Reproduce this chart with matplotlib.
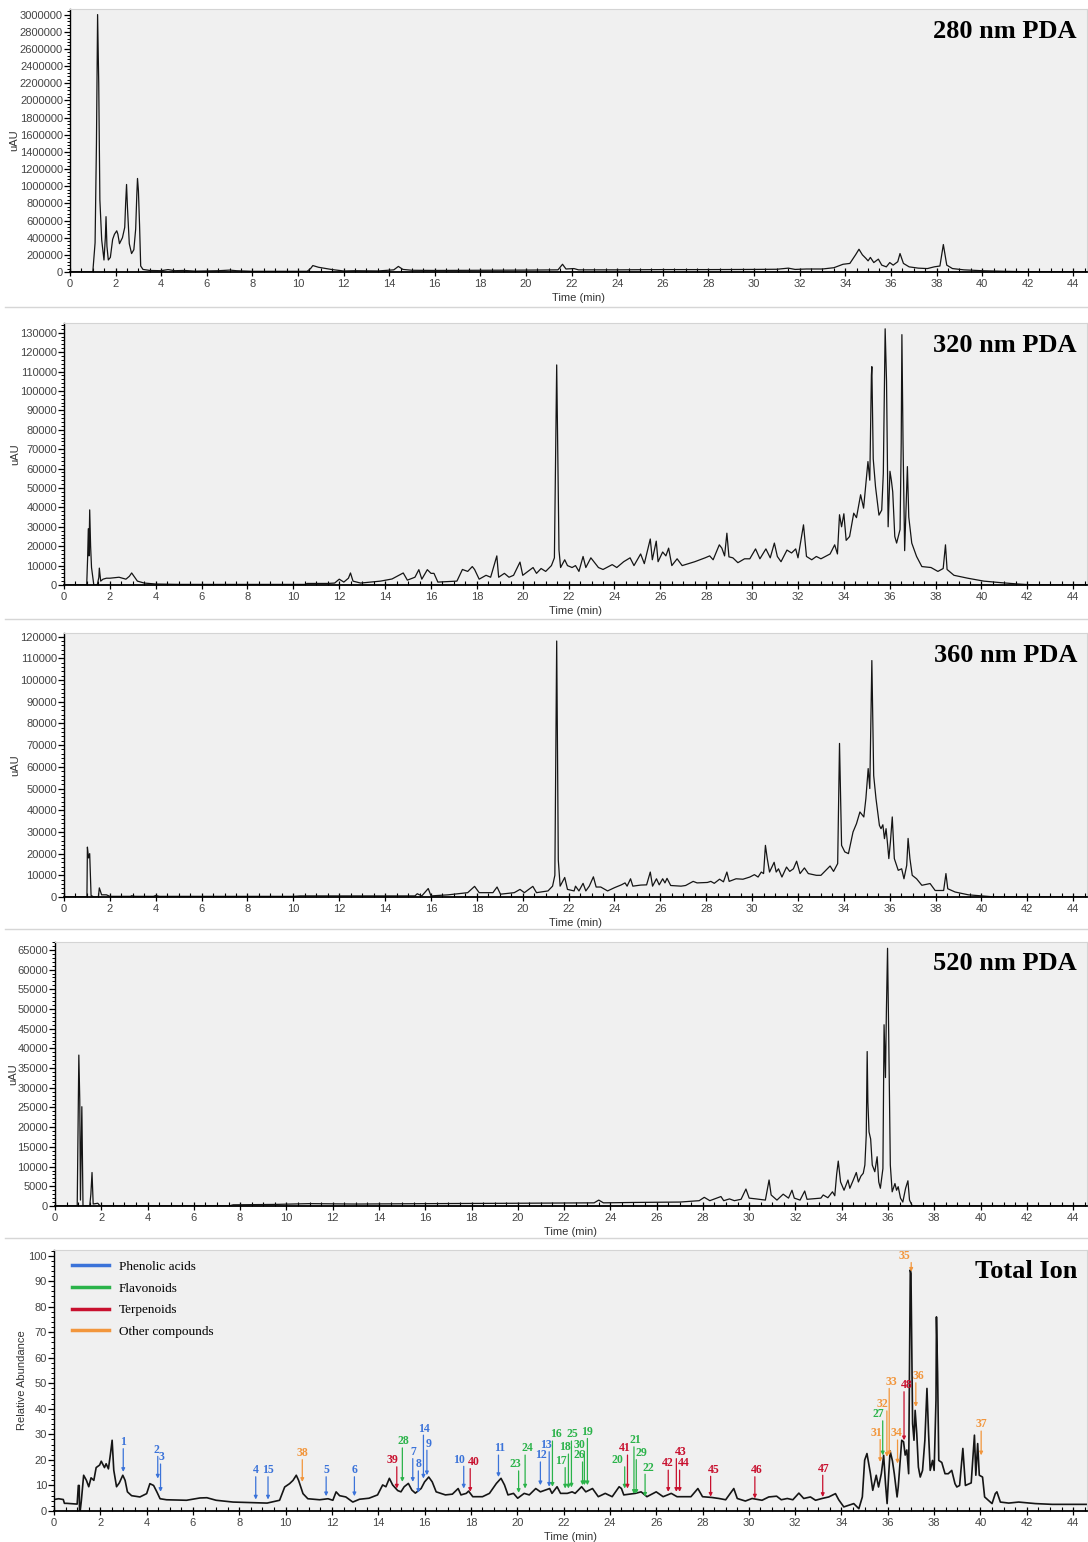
import numpy as np
import matplotlib.pyplot as plt
from matplotlib.ticker import MultipleLocator, AutoMinorLocator
from matplotlib.lines import Line2D

# ---- data: (time [min], signal) vertices ----
# 280 nm PDA, signal in uAU
pda280 = [(0, 0), (1.0, 0), (1.1, 340e3), (1.16, 1.5e6), (1.21, 3.0e6), (1.26, 2.2e6),
          (1.31, 840e3), (1.39, 373e3), (1.49, 140e3), (1.55, 400e3), (1.58, 645e3),
          (1.62, 300e3), (1.68, 140e3), (1.77, 170e3), (1.87, 380e3), (1.95, 440e3),
          (2.05, 480e3), (2.1, 440e3), (2.17, 330e3), (2.3, 400e3), (2.4, 520e3),
          (2.44, 800e3), (2.48, 1.02e6), (2.52, 750e3), (2.6, 330e3), (2.7, 215e3),
          (2.8, 260e3), (2.88, 500e3), (2.93, 900e3), (2.96, 1.09e6), (3.0, 950e3),
          (3.05, 550e3), (3.1, 70e3), (3.2, 30e3), (3.5, 18e3), (4.0, 15e3), (4.3, 28e3),
          (4.6, 15e3), (5.0, 18e3), (5.5, 10e3), (6.5, 15e3), (7.0, 22e3), (7.3, 15e3),
          (8.0, 8e3), (10.4, 8e3), (10.55, 40e3), (10.65, 75e3), (10.9, 55e3), (11.5, 28e3),
          (12.0, 12e3), (12.5, 15e3), (13.5, 12e3), (14.2, 25e3), (14.4, 65e3), (14.6, 30e3),
          (15.0, 20e3), (16.0, 18e3), (18.0, 20e3), (20.0, 22e3), (21.4, 25e3), (21.6, 90e3),
          (21.75, 35e3), (22.1, 40e3), (22.3, 25e3), (24.0, 25e3), (26.0, 28e3), (28.0, 28e3),
          (30.0, 30e3), (31.0, 32e3), (31.5, 45e3), (31.8, 30e3), (32.3, 35e3), (33.0, 35e3),
          (33.5, 50e3), (33.9, 90e3), (34.2, 100e3), (34.45, 200e3), (34.6, 265e3),
          (34.75, 200e3), (34.9, 160e3), (35.0, 130e3), (35.1, 170e3), (35.25, 110e3),
          (35.45, 150e3), (35.6, 80e3), (35.8, 60e3), (35.95, 110e3), (36.1, 80e3),
          (36.3, 120e3), (36.4, 215e3), (36.55, 100e3), (36.8, 60e3), (37.2, 45e3),
          (37.6, 40e3), (37.9, 60e3), (38.15, 70e3), (38.3, 320e3), (38.45, 80e3),
          (38.7, 40e3), (39.2, 25e3), (40.0, 15e3), (41.0, 8e3), (42.0, 3e3), (44.6, 0)]

# 320 nm PDA, signal in thousands of uAU
pda320_k = [(0, 0), (0.99, 0), (1.03, 14), (1.06, 29), (1.09, 15), (1.12, 38.7), (1.16, 20),
            (1.2, 9), (1.3, 0), (1.45, 0), (1.52, 4), (1.54, 8.7), (1.6, 2), (1.7, 3),
            (1.85, 3.5), (2.0, 3.5), (2.4, 4), (2.7, 3), (2.85, 4.5), (2.95, 6.2), (3.05, 4.5),
            (3.2, 2), (3.5, 1), (4.0, 0.5), (5.0, 0.3), (10.5, 0.3), (10.6, 0.8), (11.5, 0.8),
            (11.8, 1), (12.0, 3), (12.2, 1.5), (12.4, 3.5), (12.49, 6.2), (12.6, 2), (12.93, 1),
            (13.8, 2), (14.3, 3.1), (14.79, 6.2), (14.97, 2.5), (15.3, 4), (15.47, 7.9),
            (15.6, 3), (15.84, 7.9), (16.0, 6), (16.13, 6), (16.3, 1.5), (17.13, 2), (17.37, 8),
            (17.6, 7), (17.8, 9.5), (17.9, 8), (18.1, 3), (18.4, 5), (18.6, 4), (18.87, 15),
            (18.95, 4), (19.2, 6), (19.4, 4), (19.6, 5), (19.88, 11.8), (20.0, 5), (20.45, 9),
            (20.6, 6), (20.8, 8.5), (21.0, 7), (21.25, 10), (21.38, 14), (21.48, 113.4),
            (21.58, 18), (21.65, 9), (21.83, 13), (21.95, 10), (22.15, 9), (22.3, 10),
            (22.45, 7), (22.63, 14.7), (22.75, 9), (22.97, 14), (23.1, 12), (23.3, 9), (23.5, 8),
            (23.9, 10.5), (24.1, 9), (24.4, 12), (24.68, 14), (24.85, 10), (25.14, 16),
            (25.3, 11), (25.56, 23.7), (25.65, 13), (25.82, 22.6), (25.9, 12), (26.1, 17),
            (26.24, 15), (26.36, 19), (26.5, 10), (26.73, 13.5), (26.95, 10), (27.5, 12),
            (27.95, 14), (28.15, 15), (28.3, 13), (28.57, 20.7), (28.68, 19), (28.8, 15),
            (28.9, 26.7), (28.99, 14.5), (29.16, 14), (29.38, 11.5), (29.67, 13.5), (29.9, 13.5),
            (30.15, 18.6), (30.34, 13.5), (30.6, 18.6), (30.79, 14), (30.97, 21.6), (31.1, 14.7),
            (31.26, 12), (31.52, 18), (31.72, 16.5), (31.9, 18.6), (32.0, 14), (32.24, 31),
            (32.37, 14.7), (32.6, 13), (32.8, 14.7), (33.0, 13.5), (33.4, 16), (33.6, 20.7),
            (33.72, 16), (33.81, 36.2), (33.9, 30), (34.0, 36.7), (34.1, 23), (34.25, 25),
            (34.43, 37), (34.55, 34.7), (34.73, 46.5), (34.86, 39.6), (35.05, 63.6), (35.13, 54),
            (35.2, 108), (35.22, 112.5), (35.28, 65), (35.38, 50.6), (35.53, 36), (35.65, 38.6),
            (35.72, 57.5), (35.8, 132), (35.86, 105), (35.93, 30), (36.01, 58.6), (36.07, 54),
            (36.13, 48), (36.22, 25), (36.3, 21.6), (36.45, 28.6), (36.5, 73), (36.53, 129),
            (36.58, 73), (36.65, 17.7), (36.77, 61), (36.83, 35), (36.96, 21.6), (37.17, 14.7),
            (37.4, 9.5), (37.8, 9), (38.1, 7), (38.33, 8.5), (38.43, 20.7), (38.5, 8),
            (38.8, 5), (39.4, 3.5), (40.1, 2), (40.85, 1.2), (41.6, 0.5), (42.3, 0), (44.6, 0)]

# 360 nm PDA, thousands of uAU
pda360_k = [(0, 0), (1.0, 0), (1.02, 23), (1.07, 18), (1.12, 20), (1.18, 0.7), (1.3, 0),
            (1.5, 0), (1.54, 4.2), (1.64, 1), (1.85, 1), (2.0, 0.3), (2.9, 0.3), (2.95, 0.6),
            (3.1, 0.3), (3.9, 0.3), (4.0, 0.7), (4.15, 0.3), (10.0, 0.3), (10.3, 0.5),
            (15.3, 0.5), (15.4, 1.5), (15.6, 0.5), (15.88, 3.9), (16.0, 0.5), (16.75, 1),
            (17.6, 2), (17.9, 4.9), (18.1, 2), (18.7, 2), (18.88, 4.6), (19.03, 1.3),
            (19.63, 2), (19.88, 3.5), (20.07, 2), (20.44, 4.9), (20.6, 2), (21.1, 2.8),
            (21.3, 5), (21.4, 10), (21.48, 118), (21.55, 17), (21.63, 5), (21.83, 9),
            (21.95, 3.5), (22.24, 2.8), (22.3, 5), (22.45, 2.8), (22.63, 6.3), (22.75, 2.8),
            (22.9, 5), (23.08, 9.3), (23.2, 4.6), (23.4, 4.6), (23.7, 2.8), (24.0, 4.3),
            (24.3, 5.6), (24.46, 6.5), (24.55, 5), (24.7, 8.4), (24.8, 5), (25.15, 5.5),
            (25.4, 5.6), (25.56, 11.5), (25.66, 5), (25.83, 8.4), (25.95, 5.6), (26.1, 8.4),
            (26.2, 6.5), (26.29, 8.6), (26.45, 5.3), (26.9, 5), (27.1, 5.3), (27.43, 7.2),
            (27.6, 6.5), (28.05, 6.7), (28.2, 7.2), (28.35, 6.3), (28.58, 8.2), (28.75, 7),
            (28.9, 11.5), (29.0, 7.2), (29.3, 8.4), (29.6, 8.2), (29.9, 9.2), (30.1, 10.3),
            (30.26, 9.2), (30.4, 11.5), (30.5, 10.8), (30.58, 23.8), (30.66, 17.7),
            (30.76, 11.5), (30.96, 16), (31.05, 11.5), (31.15, 13), (31.3, 9.2), (31.5, 13.8),
            (31.64, 11.8), (31.8, 13), (31.94, 16.5), (32.09, 10.8), (32.28, 13.4),
            (32.45, 10.8), (32.8, 10), (33.0, 10), (33.4, 14.3), (33.55, 11.8), (33.73, 15.4),
            (33.81, 70.8), (33.9, 23.8), (34.04, 20.8), (34.2, 20), (34.4, 30), (34.55, 33.8),
            (34.7, 39.2), (34.87, 36.9), (34.96, 45.4), (35.06, 59.2), (35.13, 50), (35.22, 109),
            (35.3, 56), (35.4, 45.4), (35.55, 33), (35.62, 31.5), (35.7, 33.3), (35.77, 26.9),
            (35.84, 31.5), (35.91, 23.8), (35.96, 17.7), (36.03, 25.4), (36.11, 36.9),
            (36.2, 17.7), (36.37, 12.3), (36.52, 13), (36.62, 8.4), (36.74, 14.6), (36.8, 27),
            (36.88, 17.7), (36.98, 10), (37.17, 8.4), (37.4, 5.4), (37.76, 6.2), (37.98, 3),
            (38.35, 3), (38.45, 10.8), (38.53, 3.8), (38.85, 2.3), (39.43, 1), (40.0, 0.5),
            (40.6, 0), (44.6, 0)]

# 520 nm PDA, thousands of uAU
pda520_k = [(0, 0), (0.96, 0), (1.03, 38.3), (1.07, 27), (1.1, 1.5), (1.16, 25.2), (1.21, 0),
            (1.5, 0), (1.55, 3), (1.6, 8.5), (1.65, 0.5), (1.85, 0.7), (1.95, 0), (7.5, 0),
            (7.7, 0.3), (9.5, 0.4), (11.0, 0.6), (13.0, 0.5), (16.0, 0.6), (20.0, 0.7),
            (23.3, 0.8), (23.5, 1.5), (23.7, 0.8), (25.0, 0.9), (27.0, 1.0), (27.84, 1.35),
            (28.06, 2.2), (28.3, 1.35), (28.78, 2.4), (28.9, 1.35), (29.15, 1.8), (29.36, 1.35),
            (29.65, 1.7), (29.86, 4.3), (30.0, 2), (30.3, 1.8), (30.7, 1.5), (30.86, 6.6),
            (30.95, 2.8), (31.2, 1.5), (31.47, 3), (31.7, 2), (31.85, 4), (31.95, 2), (32.2, 1.5),
            (32.4, 3.8), (32.5, 1.7), (33.1, 2), (33.2, 2.8), (33.4, 2.1), (33.6, 3.6),
            (33.7, 2.6), (33.78, 8), (33.85, 11.4), (33.95, 6.1), (34.1, 4), (34.27, 6.6),
            (34.35, 4.5), (34.5, 6.6), (34.63, 8.5), (34.72, 6.1), (34.83, 7.6), (34.93, 8.3),
            (35.0, 10.4), (35.06, 18), (35.1, 39.2), (35.13, 26.4), (35.18, 18.8), (35.25, 17),
            (35.32, 10.4), (35.43, 8.7), (35.53, 12.5), (35.6, 6.1), (35.67, 4.5), (35.78, 9.5),
            (35.83, 46), (35.89, 32.6), (35.93, 49.3), (35.98, 65.4), (36.03, 43.4),
            (36.1, 10.4), (36.18, 3.6), (36.3, 5.7), (36.37, 4), (36.44, 4.9), (36.54, 2),
            (36.64, 1), (36.76, 4.5), (36.86, 6.4), (36.93, 1.5), (37.05, 0), (44.6, 0)]

# Total ion current, relative abundance (%)
tic = [(0, 4.5), (0.2, 4.8), (0.4, 4.5), (0.45, 3), (0.55, 3), (1.0, 2.7), (1.05, 10),
       (1.09, 10), (1.1, 0), (1.13, 0), (1.18, 4), (1.28, 14), (1.4, 12), (1.5, 9.5),
       (1.6, 13), (1.72, 12), (1.82, 17), (1.97, 18), (2.04, 19.5), (2.18, 17), (2.25, 18.5),
       (2.35, 16.5), (2.44, 22.5), (2.51, 27.7), (2.58, 16), (2.7, 9.5), (2.82, 11),
       (2.97, 14), (3.07, 12), (3.17, 7.5), (3.35, 6), (3.71, 5.5), (4.0, 6.8), (4.14, 10.7),
       (4.3, 10), (4.44, 7.5), (4.58, 4.8), (4.86, 4.4), (5.72, 4.2), (6.3, 5.1), (6.6, 5.2),
       (7.0, 4.2), (7.73, 3.5), (9.2, 3.1), (9.74, 4.2), (9.96, 9.4), (10.06, 10),
       (10.17, 10.7), (10.32, 12), (10.46, 14), (10.56, 12), (10.75, 6.8), (10.96, 4.8),
       (11.47, 4.4), (11.83, 4.8), (12.04, 4.2), (12.18, 7.5), (12.33, 6), (12.6, 5.5),
       (12.9, 3.5), (13.19, 4.6), (13.6, 5), (13.97, 6.3), (14.19, 10.2), (14.33, 9.5),
       (14.48, 12.8), (14.62, 10.2), (14.84, 8), (14.98, 7.5), (15.12, 9.5), (15.3, 10.8),
       (15.45, 8.2), (15.6, 7), (15.85, 8.8), (16.0, 11.4), (16.18, 13.3), (16.33, 11.4),
       (16.5, 7.5), (16.9, 6.3), (17.2, 6.6), (17.45, 8.8), (17.57, 6.3), (17.8, 6.9),
       (17.9, 7.8), (18.08, 5.6), (18.5, 5.6), (18.8, 6.9), (19.1, 10.8), (19.3, 12.8),
       (19.45, 10.2), (19.6, 6.3), (19.84, 6.9), (20.02, 5), (20.3, 6.9), (20.52, 6.3),
       (20.8, 8.8), (21.0, 7.5), (21.4, 8.8), (21.5, 6.9), (21.72, 9.5), (21.87, 6.9),
       (22.16, 6.9), (22.37, 7.5), (22.5, 6.9), (22.78, 9.5), (22.96, 7.5), (23.25, 8.8),
       (23.5, 5.6), (23.8, 6.9), (24.1, 5.6), (24.4, 9.5), (24.5, 8.8), (24.6, 6.3),
       (25.1, 6.9), (25.35, 7.5), (25.6, 5.6), (26.0, 7.5), (26.3, 5.6), (26.65, 6.9),
       (26.9, 5.6), (27.15, 5.6), (27.5, 5.6), (27.8, 8.8), (28.0, 5.6), (28.4, 5.3),
       (28.71, 4.9), (29.0, 4.4), (29.35, 8.8), (29.5, 4.9), (29.85, 3.9), (30.14, 4.9),
       (30.57, 4.2), (30.86, 5.5), (31.2, 5.8), (31.4, 4.4), (31.66, 4.9), (31.9, 4.4),
       (32.16, 7), (32.37, 4.9), (32.66, 5.5), (32.88, 4.2), (33.16, 4.9), (33.45, 5.5),
       (33.74, 6.8), (33.88, 4.4), (34.1, 1.6), (34.53, 2.9), (34.75, 0.9), (34.9, 5.5),
       (35.0, 19.9), (35.1, 22.5), (35.25, 14.6), (35.35, 8.1), (35.5, 14), (35.6, 9.4),
       (35.72, 14.6), (35.82, 21.8), (35.9, 10.7), (35.97, 2.9), (36.04, 14.6), (36.1, 23.5),
       (36.2, 19.6), (36.28, 14.6), (36.4, 5.5), (36.45, 9.4), (36.6, 27.7), (36.68, 27.1),
       (36.75, 21.9), (36.82, 23.9), (36.9, 14.6), (36.97, 94.4), (37.0, 93), (37.07, 34.2),
       (37.13, 27.7), (37.18, 39.4), (37.25, 30.3), (37.32, 17.2), (37.4, 13.3), (37.5, 15.9),
       (37.6, 27.7), (37.69, 48), (37.76, 30.3), (37.83, 15.9), (37.93, 19.8), (38.0, 15.9),
       (38.08, 43.4), (38.1, 76), (38.15, 54), (38.2, 19.8), (38.33, 19), (38.47, 14.6),
       (38.61, 14.6), (38.76, 15.9), (38.9, 10.7), (38.98, 9.4), (39.1, 10), (39.24, 24.5),
       (39.35, 10), (39.6, 11), (39.74, 29.7), (39.8, 14), (39.88, 26.4), (39.95, 14),
       (40.09, 13.3), (40.18, 5.5), (40.5, 2.9), (40.64, 6.8), (40.71, 7.5), (40.86, 3.5),
       (41.22, 3.1), (41.65, 3.5), (42.37, 2.9), (43.1, 2.6), (44.6, 2.6)]

# compound annotations on the TIC: number, class, text pos, arrow x, arrow tip
ann_num = ['1', '2', '3', '4', '15', '38', '5', '6', '39', '28', '7', '8', '14', '9',
           '10', '40', '11', '23', '24', '12', '13', '16', '17', '18', '25', '30', '26',
           '19', '20', '41', '21', '29', '22', '42', '43', '44', '45', '46', '47',
           '31', '27', '32', '33', '34', '48', '36', '35', '37']
ann_cls = ['P', 'P', 'P', 'P', 'P', 'O', 'P', 'P', 'T', 'F', 'P', 'P', 'P', 'P',
           'P', 'T', 'P', 'F', 'F', 'P', 'P', 'F', 'F', 'F', 'F', 'F', 'F',
           'F', 'F', 'T', 'F', 'F', 'F', 'T', 'T', 'T', 'T', 'T', 'T',
           'O', 'F', 'O', 'O', 'O', 'T', 'O', 'O', 'O']
ann_tx = [2.99, 4.43, 4.64, 8.71, 9.24, 10.72, 11.75, 12.97, 14.63, 15.1, 15.49, 15.73,
          15.99, 16.16, 17.5, 18.12, 19.22, 19.94, 20.44, 21.02, 21.24, 21.67, 21.88, 22.07,
          22.38, 22.67, 22.67, 23.03, 24.34, 24.66, 25.11, 25.37, 25.66, 26.48, 27.05, 27.2,
          28.49, 30.36, 33.23, 35.49, 35.57, 35.78, 36.15, 36.39, 36.8, 37.33, 36.7, 40.03]
ann_ty = [27, 24, 21, 16, 16, 22.7, 16, 16, 19.9, 27.3, 23.1, 18.3, 32.3, 26.4, 20.1, 19.2,
          24.5, 18.3, 24.5, 21.8, 25.8, 30, 19.6, 24.9, 30, 26, 21.8, 31, 19.9, 24.5, 27.7,
          22.7, 17, 18.6, 23.1, 18.6, 16.2, 16, 16.6, 30.6, 37.9, 41.8, 50.6, 30.4, 49.3,
          52.8, 99.9, 33.9]
ann_ax = [2.99, 4.48, 4.6, 8.71, 9.24, 10.72, 11.75, 12.97, 14.8, 15.04, 15.49, 15.73,
          15.95, 16.1, 17.69, 17.97, 19.19, 20.06, 20.34, 21.0, 21.38, 21.52, 22.07, 22.21,
          22.34, 22.9, 22.82, 23.03, 24.64, 24.76, 25.04, 25.14, 25.52, 26.52, 26.87, 27.01,
          28.35, 30.26, 33.19, 35.67, 35.78, 35.96, 36.06, 36.42, 36.7, 37.21, 37.01, 40.03]
ann_tip = [15.3, 12.7, 7.5, 4.5, 4.5, 11.4, 5.8, 5.8, 8.8, 11.4, 11.4, 7.1, 12.7, 14, 8.8,
           7.5, 13.3, 7.1, 8.8, 10.1, 9.5, 9.5, 8.8, 8.8, 9.2, 10.1, 10.1, 10.1, 8.8, 8.8,
           6.7, 6.7, 5.6, 7.5, 7.5, 7.5, 5.6, 4.9, 5.5, 19.2, 21.8, 21.2, 21.8, 18.6, 27.7,
           40.8, 93.7, 21.8]

classes = ['P', 'F', 'T', 'O']
class_names = ['Phenolic acids', 'Flavonoids', 'Terpenoids', 'Other compounds']
class_colors = {'P': '#3b73d9', 'F': '#2bb34a', 'T': '#c8102e', 'O': '#f2963c'}

W, H = 1088, 1542
fig = plt.figure(figsize=(W / 100, H / 100), dpi=100)

TICK_FONT = ['Liberation Sans', 'DejaVu Sans']
SERIF = ['Liberation Serif', 'DejaVu Serif']


def panel(left, top, bottom, ymax, ystep, ylabel, ylab_x, title, trace, scale=1.0):
    # boxes given in image pixels measured from the top-left corner
    w = 1087 - left
    ax = fig.add_axes([left / W, 1 - bottom / H, w / W, (bottom - top) / H])
    ax.set_facecolor('#f0f0f0')
    t, y = np.array(trace, dtype=float).T
    ax.plot(t, y * scale, color='#151515', lw=0.9)
    ax.set_xlim(0, 44.6)
    ax.set_ylim(0, ymax)

    ax.xaxis.set_major_locator(MultipleLocator(2))
    ax.xaxis.set_minor_locator(MultipleLocator(0.5))
    ax.yaxis.set_major_locator(MultipleLocator(ystep))
    ax.yaxis.set_minor_locator(AutoMinorLocator(5))
    ax.ticklabel_format(axis='y', style='plain', useOffset=False)
    ax.tick_params(axis='x', which='major', direction='inout', length=6, width=0.9,
                   labelsize=8, labelcolor='#444444', pad=2)
    ax.tick_params(axis='x', which='minor', direction='in', length=3, width=0.8)
    ax.tick_params(axis='y', which='major', direction='out', length=4, width=0.9,
                   labelsize=8, labelcolor='#444444', pad=1)
    ax.tick_params(axis='y', which='minor', direction='out', length=2.5, width=0.7)
    for lab in ax.get_xticklabels() + ax.get_yticklabels():
        lab.set_family(TICK_FONT)

    for s in ['top', 'right']:
        ax.spines[s].set_color('#d4d4d4')
        ax.spines[s].set_linewidth(0.8)
    ax.spines['left'].set_linewidth(1.0)
    ax.spines['bottom'].set_linewidth(1.3)

    ax.set_xlabel('Time (min)', fontsize=8, color='#333333', family=TICK_FONT)
    ax.xaxis.set_label_coords(0.5, -21 / (bottom - top))
    ax.set_ylabel(ylabel, fontsize=8, color='#333333', family=TICK_FONT)
    ax.yaxis.set_label_coords((ylab_x + 5 - left) / w, 0.5)

    fig.text(1077 / W, 1 - (top + 22) / H, title, fontsize=19, fontweight='bold',
             family=SERIF, ha='right', va='center')
    return ax


ax1 = panel(70, 9, 272, 3.065e6, 200000, 'uAU', 14, '280 nm PDA', pda280)
ax2 = panel(64, 323, 585, 135000, 10000, 'uAU', 15, '320 nm PDA', pda320_k, 1000)
ax3 = panel(64, 633, 897, 121700, 10000, 'uAU', 15, '360 nm PDA', pda360_k, 1000)
ax4 = panel(55, 942, 1206, 67000, 5000, 'uAU', 13, '520 nm PDA', pda520_k, 1000)
ax5 = panel(54, 1250, 1511, 102.2, 10, 'Relative Abundance', 22, 'Total Ion', tic)
ax5.lines[0].set_linewidth(1.2)

# compound arrows and numbers
for num, c, tx, ty, axx, tip in zip(ann_num, ann_cls, ann_tx, ann_ty, ann_ax, ann_tip):
    col = class_colors[c]
    ax5.text(tx, ty, num, color=col, fontsize=8.5, fontweight='bold', family=SERIF,
             ha='center', va='center')
    ax5.annotate('', xy=(axx, tip), xytext=(axx, ty - 2.6),
                 arrowprops=dict(arrowstyle='-|>', color=col, lw=0.9,
                                 mutation_scale=5, shrinkA=0, shrinkB=0))

handles = [Line2D([], [], color=class_colors[c], lw=2.5) for c in classes]
ax5.legend(handles, class_names, loc='upper left', bbox_to_anchor=(0.006, 1.005),
           frameon=False, handlelength=2.8, labelspacing=0.72, handletextpad=0.75,
           prop={'family': SERIF, 'size': 9.5})

# faint separators between the stacked screenshots
for yy in [307, 619, 929, 1238]:
    fig.add_artist(Line2D([5 / W, 1], [1 - yy / H] * 2, color='#d6d6d6', lw=1))

fig.savefig('out.png', dpi=100, facecolor='white')
